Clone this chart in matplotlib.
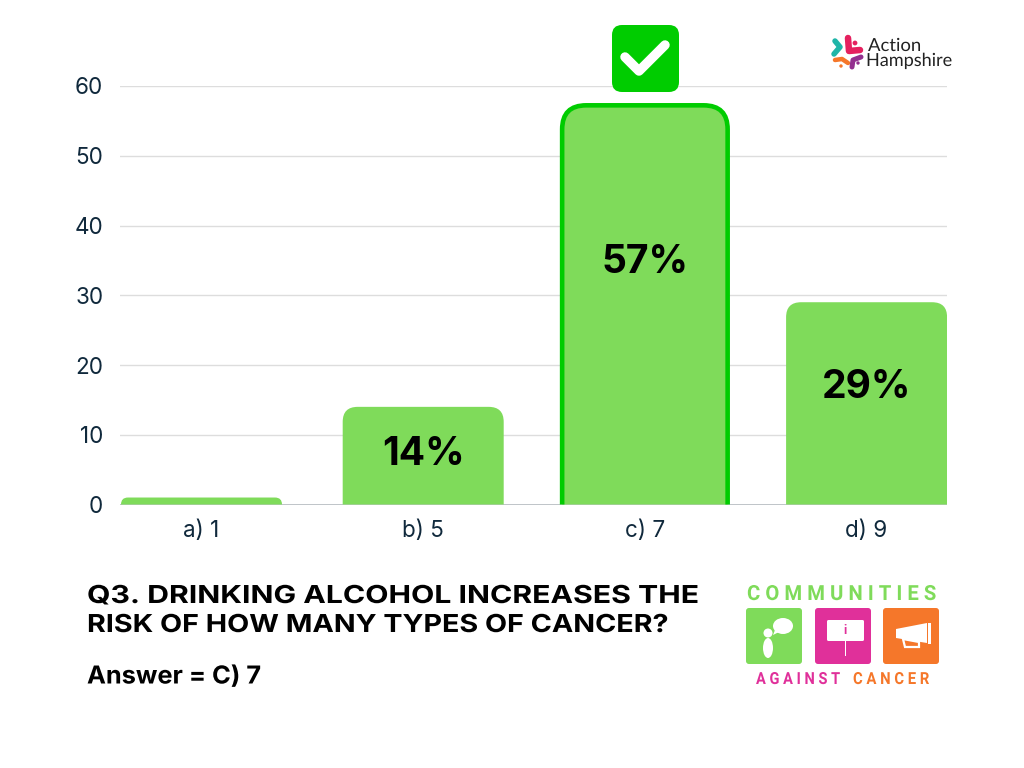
"""Q3 quiz results bar chart with the two campaign logos."""
import matplotlib
matplotlib.use("Agg")
import matplotlib.pyplot as plt
from matplotlib.patches import Circle, Ellipse, FancyBboxPatch, PathPatch, Polygon, Rectangle
from matplotlib.patheffects import AbstractPathEffect
from matplotlib.path import Path
from matplotlib.transforms import Affine2D

# ── Data ───────────────────────────────────────────────────────────────────────
categories = ["a) 1", "b) 5", "c) 7", "d) 9"]
percent = [1, 14, 57, 29]
labelled = [False, True, True, True]
correct = [False, False, True, False]
y_ticks = [0, 10, 20, 30, 40, 50, 60]

# ── Palette ────────────────────────────────────────────────────────────────────
GREEN = "#7FDB5A"
DARK_GREEN = "#00CC00"
PINK = "#E0309A"
ORANGE = "#F5772A"
NAVY = "#10293C"
GRID = "#DDDDDD"
BASE = "#B5BBC0"
FONT = "Inter"

W, H = 1024, 768
PT = 72 / 100  # px -> pt at dpi 100

fig = plt.figure(figsize=(W / 100, H / 100), dpi=100, facecolor="white")

# chart axes, placed to the pixel
L, R, T, B = 120, 947, 86, 504.5
ax = fig.add_axes([L / W, 1 - B / H, (R - L) / W, (B - T) / H])
ax.set_xlim(-0.3676, 3.3627)
ax.set_ylim(0, 60)
ax.set_facecolor("none")
for s in ax.spines.values():
    s.set_visible(False)
ax.set_axisbelow(True)
ax.set_yticks(y_ticks)
ax.grid(axis="y", color=GRID, lw=1.0)
ax.tick_params(axis="both", length=0, labelsize=22.5 * PT, labelcolor=NAVY)
ax.tick_params(axis="y", pad=12)
ax.tick_params(axis="x", pad=11)
ax.set_xticks(range(len(categories)))
ax.set_xticklabels(categories)
for t in ax.get_xticklabels() + ax.get_yticklabels():
    t.set_fontfamily(FONT)
ax.axhline(0, color=BASE, lw=1.2, zorder=1)

px_x = (3.3627 + 0.3676) / (R - L)   # data units per px
px_y = 60 / (B - T)


def round_top(x, width, top, r_px, closed=True):
    """Bar outline with rounded upper corners, radius given in pixels."""
    rx, ry = r_px * px_x, min(r_px * px_y, top)
    x0, x1 = x - width / 2, x + width / 2
    verts = [(x0, 0), (x0, top - ry), (x0, top), (x0 + rx, top),
             (x1 - rx, top), (x1, top), (x1, top - ry), (x1, 0)]
    codes = [Path.MOVETO, Path.LINETO, Path.CURVE3, Path.CURVE3,
             Path.LINETO, Path.CURVE3, Path.CURVE3, Path.LINETO]
    if closed:
        verts.append((x0, 0))
        codes.append(Path.CLOSEPOLY)
    return Path(verts, codes)


BAR_W = 161 * px_x
for i, v in enumerate(percent):
    if correct[i]:
        # highlighted bar: stroke on the top and sides only
        wide = BAR_W + 4.5 * px_x
        top = v + 1.6 * px_y
        ax.add_patch(PathPatch(round_top(i, wide, top, 24), fc=GREEN, ec="none", zorder=3))
        ax.add_patch(PathPatch(round_top(i, wide, top, 24, closed=False), fc="none",
                               ec=DARK_GREEN, lw=4.6 * PT, capstyle="butt", zorder=3))
    else:
        r = 15 if v > 5 else 7
        ax.add_patch(PathPatch(round_top(i, BAR_W, v, r), fc=GREEN, ec="none", zorder=3))
    if labelled[i]:
        ax.text(i, 0.64 * v - 1.15 - 4 * px_y, f"{v}%", ha="center", va="center",
                fontsize=39 * PT, fontweight="bold", color="black", family=FONT, zorder=4)

# ── Overlay in pixel coordinates: tick mark, heading, logos ────────────────────
ov = fig.add_axes([0, 0, 1, 1], zorder=5)
ov.set_xlim(0, W)
ov.set_ylim(H, 0)
ov.axis("off")
ov.patch.set_alpha(0)


class StretchX(AbstractPathEffect):
    """Scale a text horizontally about its left edge."""

    def __init__(self, x0, sx):
        super().__init__()
        self.x0, self.sx = x0, sx

    def draw_path(self, renderer, gc, tpath, affine, rgbFace=None):
        stretch = Affine2D().translate(-self.x0, 0).scale(self.sx, 1).translate(self.x0, 0)
        renderer.draw_path(gc, tpath, affine + stretch, rgbFace)


def fit_text(x0, x1, y, s, **kw):
    """Left-anchored text at baseline y, squeezed or widened to span x0..x1."""
    t = ov.text(x0, y, s, ha="left", va="baseline", **kw)
    ext = t.get_window_extent(fig.canvas.get_renderer())
    t.set_path_effects([StretchX(x0, (x1 - x0) / ext.width)])
    return t


def rbox(x0, y0, x1, y1, r, fc):
    ov.add_patch(FancyBboxPatch((x0 + r, y0 + r), x1 - x0 - 2 * r, y1 - y0 - 2 * r,
                                boxstyle=f"round,pad={r}", fc=fc, ec="none"))


def stroke(xs, ys, c, w):
    ov.plot(xs, ys, color=c, lw=w * PT, solid_capstyle="round", solid_joinstyle="round")


# tick badge
rbox(612, 25, 679, 92, 10, DARK_GREEN)
stroke([625, 639, 665], [57, 71, 45], "white", 9.5)

# heading
head = dict(fontsize=17.8, fontweight="bold", family=FONT, color="black")
fit_text(87, 698, 603, "Q3. DRINKING ALCOHOL INCREASES THE", **head)
fit_text(87, 668, 632, "RISK OF HOW MANY TYPES OF CANCER?", **head)
fit_text(87, 261, 683.5, "Answer = C) 7", **head)

# Action Hampshire logo
stroke([835, 840, 834], [41, 47, 54], "#1FB5A8", 5.5)
stroke([848, 849, 860], [38, 51, 50], "#E5215F", 6.5)
ov.add_patch(Circle((855, 43), 2.4, fc="#E5215F", ec="none"))
stroke([835, 842, 848], [60, 59, 63], ORANGE, 4.5)
ov.add_patch(Circle((841, 66), 1.7, fc=ORANGE, ec="none"))
stroke([852, 853, 861], [67, 60, 57], "#93308F", 5)
ov.add_patch(Circle((858, 63), 1.7, fc="#93308F", ec="none"))
fit_text(868, 921, 51, "Action", fontsize=13, family="Lato", color="#222222")
fit_text(866, 952, 66, "Hampshire", fontsize=13, family="Lato", color="#222222")

# Communities Against Cancer logo
badge = dict(fontweight="bold", family="Roboto")
fit_text(747, 937, 600, "C O M M U N I T I E S", fontsize=15, color=GREEN, **badge)
fit_text(756, 840, 684, "A G A I N S T", fontsize=12, color=PINK, **badge)
fit_text(853, 929, 684, "C A N C E R", fontsize=12, color=ORANGE, **badge)
rbox(746, 608, 802, 664, 3, GREEN)
rbox(815, 608, 871, 664, 3, PINK)
rbox(883, 608, 939, 664, 3, ORANGE)

# person with speech bubble
ov.add_patch(Circle((768, 633), 4.5, fc="white", ec="none"))
ov.add_patch(Ellipse((768, 648), 10, 20, fc="white", ec="none"))
ov.add_patch(Ellipse((783, 626), 20, 16, fc="white", ec="none"))
ov.add_patch(Polygon([(775, 630), (779, 632), (773, 635)], fc="white", ec="none"))

# placard
rbox(827, 620, 864, 641, 1.5, "white")
ov.add_patch(Rectangle((844.6, 641), 1, 15, fc="white", ec="none"))
ov.text(845.2, 631, "i", fontsize=9, fontweight="bold", family="Roboto", color=PINK,
        ha="center", va="center")

# megaphone
ov.add_patch(Polygon([(896, 629), (927, 623), (927, 643), (896, 638)], fc="white", ec="none"))
ov.add_patch(Rectangle((927.5, 622.5), 3, 21, fc="white", ec="none"))
ov.add_patch(Polygon([(903, 639), (919, 642), (919, 647), (905, 647)], fc="none", ec="white", lw=1.6))

fig.savefig("out.png", dpi=100, facecolor="white")
